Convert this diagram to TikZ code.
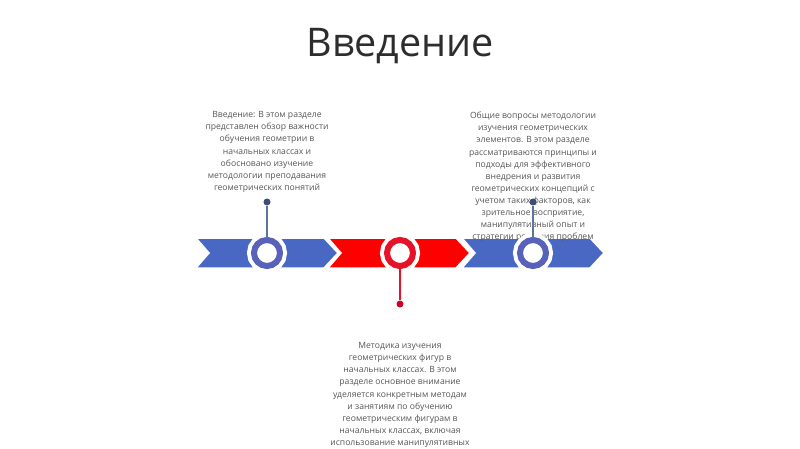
\documentclass[tikz,border=0pt]{standalone}
\usepackage{fontspec}
\setmainfont{Open Sans}
\usetikzlibrary{positioning}
\definecolor{stepblue}{RGB}{72,104,196}
\definecolor{ringblue}{RGB}{88,98,186}
\definecolor{stepred}{RGB}{255,0,0}
\definecolor{ringred}{RGB}{232,18,40}
\definecolor{pinblue}{RGB}{100,114,152}
\definecolor{dotblue}{RGB}{62,76,122}
\definecolor{dotred}{RGB}{205,0,40}
\definecolor{textgray}{RGB}{85,85,85}
\definecolor{titlegray}{RGB}{45,45,45}
\begin{document}
\begin{tikzpicture}
            [x=1pt, y=-1pt,
            stepbox/.style={draw=white, line width=1.5pt, line join=miter},
            milestone/.style={circle, fill=white, draw=white, double=#1, double distance=6pt,
                line width=4pt, minimum size=26pt, inner sep=0pt},
            pin/.style={circle, fill=#1, minimum size=7pt, inner sep=0pt},
            stem/.style={line width=1.4pt},
            note/.style={align=center, text=textgray, font=\fontsize{8.6}{12.1}\selectfont}]

            \useasboundingbox (0,0) rectangle (800,449);

            \node[text=titlegray, font=\fontsize{39.5}{48}\selectfont] (title) at (400,46) {Введение};

            % arrow band
            \foreach \L/\col in {196/stepblue, 328/stepred, 462/stepblue}
                \fill[stepbox, fill=\col] (\L,238) -- (\L+128,238) -- (\L+142,253)
                    -- (\L+128,268) -- (\L,268) -- (\L+13,253) -- cycle;

            \node[note] (intro) at (267,152) {Введение: В этом разделе\\представлен обзор важности\\обучения геометрии в\\начальных классах и\\обосновано изучение\\методологии преподавания\\геометрических понятий};
            \node[note] (general) at (533,177) {Общие вопросы методологии\\изучения геометрических\\элементов. В этом разделе\\рассматриваются принципы и\\подходы для эффективного\\внедрения и развития\\геометрических концепций с\\учетом таких факторов, как\\зрительное восприятие,\\манипулятивный опыт и\\стратегии решения проблем};
            \node[note] (method) at (400,395) {Методика изучения\\геометрических фигур в\\начальных классах. В этом\\разделе основное внимание\\уделяется конкретным методам\\и занятиям по обучению\\геометрическим фигурам в\\начальных классах, включая\\использование манипулятивных};

            \node[milestone=ringblue] (m1) at (267,253) {};
            \node[milestone=ringred] (m2) at (400,253) {};
            \node[milestone=ringblue] (m3) at (533,253) {};

            \node[pin=dotblue] (p1) at (267,202) {};
            \node[pin=dotred] (p2) at (400,304) {};
            \node[pin=dotblue] (p3) at (533,202) {};

            \draw[stem, pinblue] (p1) -- (m1);
            \draw[stem, ringred] (p2) -- (m2);
            \draw[stem, pinblue] (p3) -- (m3);

        \end{tikzpicture}
\end{document}
